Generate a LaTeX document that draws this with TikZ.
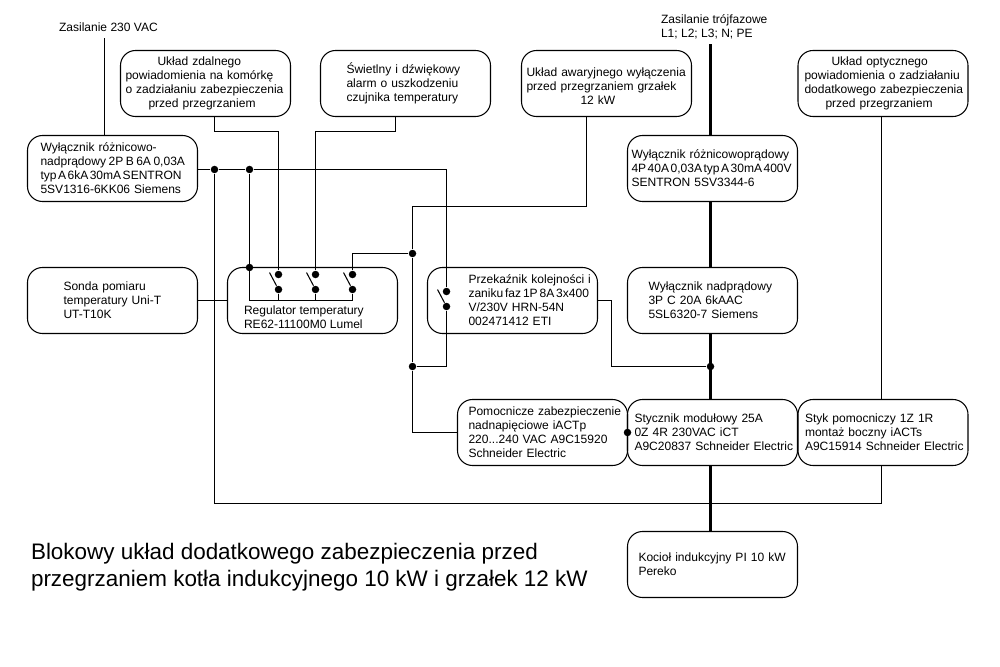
\documentclass[tikz,border=0pt]{standalone}
\usepackage{fontspec}
\setmainfont{Liberation Sans}
\newcommand{\ciasno}[2]{{\spaceskip=#1\relax #2}}
\tikzset{
	txt/.style={inner sep=0pt, align=left, font=\fontsize{6.85pt}{7.97pt}\selectfont},
	box/.style={draw, rectangle, rounded corners=0.3cm, minimum width=3.4cm, minimum height=1.32cm, inner sep=0pt, outer sep=0pt, text width=3.4cm, align=left, font=\fontsize{6.85pt}{7.97pt}\selectfont, execute at begin node={\leftskip=#1\relax\rightskip=-1cm plus 1fil\relax}},
	box/.default=0cm,
	wire/.style={line width=0.6pt},
	phase/.style={line width=1.75pt},
	dot/.style={circle, fill, inner sep=0pt, minimum size=0.15cm},
}
\begin{document}
\begin{tikzpicture}[node distance=2.64cm, wire]
	\useasboundingbox (-0.01,0.01) rectangle (19.99,-13.33);

	\node[box=0.26cm] (wyl) at (2.24,-3.36) {Wyłącznik różnicowo-\\\ciasno{1.42pt}{nadprądowy 2P B 6A 0,03A}\\\ciasno{0.85pt}{typ A 6kA 30mA SENTRON}\\5SV1316-6KK06 Siemens};
	\node[box=0.72cm, below of=wyl] (sonda) {Sonda pomiaru\\temperatury Uni-T\\UT-T10K};
	\node[box, right of=sonda, xshift=1.36cm] (reg) {};
	\node[box=0.82cm, right of=reg, xshift=1.36cm] (przek) {Przekaźnik kolejności i\\\ciasno{1.05pt}{zaniku faz 1P 8A 3x400}\\V/230V HRN-54N\\002471412 ETI};
	\node[box=0.42cm, right of=przek, xshift=1.36cm] (nadpr) {Wyłącznik nadprądowy\\3P C 20A 6kAAC\\5SL6320-7 Siemens};
	\node[box=0.08cm, above of=nadpr] (rcd) {Wyłącznik różnicowoprądowy\\\ciasno{0.85pt}{4P 40A 0,03A typ A 30mA 400V}\\SENTRON 5SV3344-6};
	\node[box=0.14cm, below of=nadpr] (stycz) {Stycznik modułowy 25A\\0Z 4R 230VAC iCT\\A9C20837 Schneider Electric};
	\node[box=0.22cm, below of=stycz] (kociol) {Kocioł indukcyjny PI 10 kW\\Pereko};
	\node[box=0.22cm, below of=przek, xshift=0.6cm] (pomoc) {Pomocnicze zabezpieczenie\\nadnapięciowe iACTp\\220...240 VAC A9C15920\\Schneider Electric};
	\node[box=0.14cm, right of=stycz, xshift=0.77cm] (styk) {Styk pomocniczy 1Z 1R\\montaż boczny iACTs\\A9C15914 Schneider Electric};

	\node[box=0.1cm, node distance=1.7cm, above of=wyl, xshift=1.86cm] (zdal) {\hspace*{0.64cm}Układ zdalnego\\powiadomienia na komórkę\\o zadziałaniu zabezpieczenia\\\hspace*{0.46cm}przed przegrzaniem};
	\node[box=0.52cm, right of=zdal, xshift=1.36cm] (swiet) {Świetlny i dźwiękowy\\alarm o uszkodzeniu\\czujnika temperatury};
	\node[box=0.1cm, right of=swiet, xshift=1.38cm] (awar) {\rule{0pt}{0.29cm}Układ awaryjnego wyłączenia\\przed przegrzaniem grzałek\\\hspace*{1.08cm}12 kW};
	\node[box=0.13cm, node distance=1.7cm, above of=rcd, xshift=3.41cm] (opt) {\hspace*{0.54cm}Układ optycznego\\powiadomienia o zadziałaniu\\dodatkowego zabezpieczenia\\\hspace*{0.42cm}przed przegrzaniem};

	\node[txt, anchor=west, at={([xshift=0.32cm, yshift=0.32cm]reg.south west)}] (regtxt) {Regulator temperatury\\RE62-11100M0 Lumel};
	\node[txt, anchor=west] (zas230) at (1.16,-0.54) {Zasilanie 230 VAC};
	\node[txt, anchor=west] (zas3f) at (13.2,-0.52) {Zasilanie trójfazowe\\L1; L2; L3; N; PE};
	\node[inner sep=0pt, anchor=west, align=left, font=\fontsize{12.78pt}{15.2pt}\selectfont] (tytul) at (0.6,-11.33) {Blokowy układ dodatkowego zabezpieczenia przed\\przegrzaniem kotła indukcyjnego 10 kW i grzałek 12 kW};

	\node[dot, at={([xshift=-0.68cm, yshift=0.52cm]reg.center)}] (regk1a) {};
	\node[dot, at={([xshift=-0.68cm, yshift=0.22cm]reg.center)}] (regk1b) {};
	\node[dot, at={([xshift=0.06cm, yshift=0.52cm]reg.center)}] (regk2a) {};
	\node[dot, at={([xshift=0.06cm, yshift=0.22cm]reg.center)}] (regk2b) {};
	\node[dot, at={([xshift=0.8cm, yshift=0.52cm]reg.center)}] (regk3a) {};
	\node[dot, at={([xshift=0.8cm, yshift=0.22cm]reg.center)}] (regk3b) {};
	\node[dot, at={([xshift=-1.32cm, yshift=0.18cm]przek.center)}] (przk1a) {};
	\node[dot, at={([xshift=-1.32cm, yshift=-0.12cm]przek.center)}] (przk1b) {};

	\node[dot, at={([xshift=2.04cm, yshift=-0.02cm]wyl.center)}] (j1) {};
	\node[dot, at={([xshift=2.74cm, yshift=-0.02cm]wyl.center)}] (j2) {};
	\node[dot, at={(j2 |- reg.north)}] (j3) {};
	\node[dot, at={([xshift=2cm, yshift=0.94cm]reg.center)}] (j4) {};
	\node[dot, node distance=2.26cm, below of=j4] (j5) {};
	\node[dot, at={([xshift=-0.04cm, yshift=-0.66cm]nadpr.south)}] (j6) {};
	\node[dot, at={(stycz.west)}] (j7) {};

	\coordinate (zas230end) at (2.08,-0.76);
	\coordinate (zas3fend) at (14.2,-0.88);
	\coordinate (regbus) at ([yshift=-0.22cm]regk3b.center);
	\coordinate (powrot) at ([xshift=-0.03cm, yshift=-0.76cm]styk.south);

	\draw (zas230end) -- (zas230end |- wyl.north);
	\draw (wyl.east |- j1) -- (j1) -- (j2) -| (przk1a);
	\draw (przk1b) |- (j5);
	\draw (j2) |- (regbus) -- (regk3b);
	\draw (regk1b) -- (regk1b |- regbus);
	\draw (regk2b) -- (regk2b |- regbus);
	\draw (regk1b) -- ([xshift=-0.18cm, yshift=0.34cm]regk1b.center);
	\draw (regk2b) -- ([xshift=-0.18cm, yshift=0.34cm]regk2b.center);
	\draw (regk3b) -- ([xshift=-0.18cm, yshift=0.34cm]regk3b.center);
	\draw (przk1b) -- ([xshift=-0.18cm, yshift=0.34cm]przk1b.center);
	\draw (zdal.south -| j1) -- ++(0,-0.3) -| (regk1a);
	\draw ([xshift=-0.2cm] swiet.south) -- ++(0,-0.3) -| (regk2a);
	\draw ([xshift=-0.4cm] awar.south) -- ++(0,-1.8) -| (j4) -- (j5) |- (pomoc.west);
	\draw (j4) -| (regk3a);
	\draw (j1) |- (powrot) -- (powrot |- styk.south);
	\draw ([xshift=-0.03cm] opt.south) -- ([xshift=-0.03cm] styk.north);
	\draw (sonda) -- (reg);
	\draw (przek.east) -- ++(0.28,0) |- (j6);

	\draw [phase] (zas3fend) -- (zas3fend |- rcd.north);
	\draw [phase] (rcd.south -| zas3fend) -- (nadpr.north -| zas3fend);
	\draw [phase] (nadpr.south -| zas3fend) -- (stycz.north -| zas3fend);
	\draw [phase] (stycz.south -| zas3fend) -- (kociol.north -| zas3fend);
\end{tikzpicture}
\end{document}
